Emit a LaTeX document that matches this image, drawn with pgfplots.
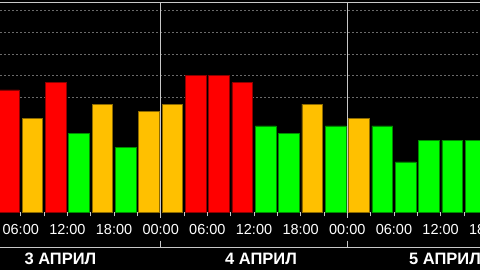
\documentclass[border=0pt]{standalone}
\usepackage{pgfplots}
\pgfplotsset{compat=1.18}
\usepackage{pgfplotstable}
\usepackage{fontspec}
\setmainfont{Liberation Sans}
\usetikzlibrary{calc}
\definecolor{kpred}{HTML}{FF0000}
\definecolor{kporange}{HTML}{FFC000}
\definecolor{kpgreen}{HTML}{00FF00}
\definecolor{sepgray}{HTML}{C8C8C8}
\definecolor{gridgray}{HTML}{6A6A6A}

% x = centre of 3-hour interval (hours from 3 April 00:00), kp = Kp index
\pgfplotstableread{
x kp
4.5 5.33
10.5 5.67
28.5 6
31.5 6
34.5 5.67
}\redtab
\pgfplotstableread{
x kp
7.5 4
16.5 4.67
22.5 4.33
25.5 4.67
43.5 4.67
49.5 4
}\orangetab
\pgfplotstableread{
x kp
13.5 3.33
19.5 2.67
37.5 3.67
40.5 3.33
46.5 3.67
52.5 3.67
55.5 2
58.5 3
61.5 3
64.5 3
}\greentab

\begin{document}
\begin{tikzpicture}
\useasboundingbox (0,0) rectangle (480bp,270bp);
\clip (0,0) rectangle (480bp,270bp);
\fill[black] (0,0) rectangle (480bp,270bp);
\begin{axis}[
  at={(0bp,57.7bp)}, anchor=south west,
  scale only axis, width=480bp, height=210bp,
  xmin=3.33, xmax=65.07, ymin=0, ymax=9.72,
  clip mode=individual,
  axis line style={draw=none},
  xtick={6,12,...,66},
  xticklabels={06:00,12:00,18:00,00:00,06:00,12:00,18:00,00:00,06:00,12:00,18:00},
  minor xtick={9,15,...,63},
  tick align=outside, xtick pos=left,
  major tick length=4bp, minor tick length=4bp,
  xtick style={sepgray, line width=0.8bp},
  minor x tick style={sepgray, line width=0.8bp},
  ytick={5.3333,6.3333,7.3333,8.3333,9.3333}, yticklabels={}, ytick style={draw=none},
  ymajorgrids, grid style={gridgray, dash pattern=on 2bp off 2bp, line width=0.7bp},
  xticklabel style={font=\fontsize{14.5bp}{17bp}\selectfont, text=white, yshift=-4.5bp},
  ybar, bar width=20.7bp, bar shift=0pt,
]
\addplot[fill=kpred, draw=kpred!55!black, line width=0.6bp, bar shift=0pt]
  table[x=x, y expr=\thisrow{kp}+0.3333]{\redtab};
\addplot[fill=kporange, draw=kporange!55!black, line width=0.6bp, bar shift=0pt]
  table[x=x, y expr=\thisrow{kp}+0.3333]{\orangetab};
\addplot[fill=kpgreen, draw=kpgreen!55!black, line width=0.6bp, bar shift=0pt]
  table[x=x, y expr=\thisrow{kp}+0.3333]{\greentab};
\coordinate (d1) at (axis cs:24,0);
\coordinate (d2) at (axis cs:48,0);
\coordinate (tl) at (rel axis cs:0,1);
\coordinate (tr) at (rel axis cs:1,1);
\coordinate (l3) at (axis cs:11.1,0);
\coordinate (l4) at (axis cs:36.9,0);
\coordinate (l5) at (axis cs:60.57,0);
\coordinate (t66) at (axis cs:66,0);
\end{axis}
\draw[sepgray, line width=1bp] (tl) -- (tr);
\draw[sepgray, line width=1.3bp] (d1 |- tl) -- (d1 |- 0,52.3bp);
\draw[sepgray, line width=1.3bp] (d1 |- 0,29.3bp) -- (d1 |- 0,22.3bp);
\draw[sepgray, line width=1.3bp] (d2 |- tl) -- (d2 |- 0,52.3bp);
\draw[sepgray, line width=1.3bp] (d2 |- 0,29.3bp) -- (d2 |- 0,22.3bp);
\draw[sepgray, line width=1.3bp] (0,22.3bp) -- (480bp,22.3bp);
% 18:00 of 5 April: tick lies just beyond the right edge, its label partly visible
\node[text=white, font=\fontsize{14.5bp}{17bp}\selectfont, anchor=north, inner sep=0.3333em]
  at ($(t66)+(0,-8.5bp)$) {18:00};
\node[text=white, font=\bfseries\fontsize{16.5bp}{18bp}\selectfont, anchor=base]
  at (l3 |- 0,6bp) {3 АПРИЛ};
\node[text=white, font=\bfseries\fontsize{16.5bp}{18bp}\selectfont, anchor=base]
  at (l4 |- 0,6bp) {4 АПРИЛ};
\node[text=white, font=\bfseries\fontsize{16.5bp}{18bp}\selectfont, anchor=base]
  at (l5 |- 0,6bp) {5 АПРИЛ};
\end{tikzpicture}
\end{document}
